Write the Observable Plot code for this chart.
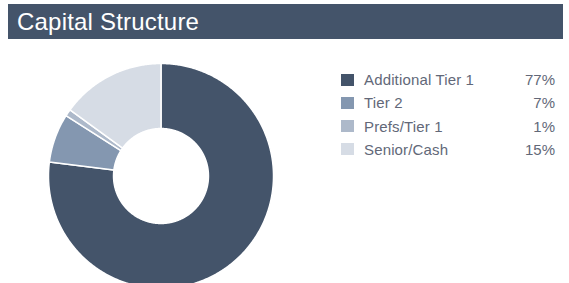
<!DOCTYPE html>
<html>
<head>
<meta charset="utf-8">
<script src="https://cdn.jsdelivr.net/npm/d3@7"></script>
<script src="https://cdn.jsdelivr.net/npm/@observablehq/plot@0.6"></script>
<style>
  html, body { margin: 0; padding: 0; background: #fff; }
  body { width: 569px; height: 283px; position: relative; overflow: hidden; font-family: "Liberation Sans", Arial, sans-serif; }
  #title { position: absolute; left: 8px; top: 4px; width: 555px; height: 35px; background: #44546a; color: #fff; font-size: 24px; line-height: 36px; box-sizing: border-box; padding-left: 9px; letter-spacing: 0.2px; }
  #chart { position: absolute; left: 43.3px; top: 57.7px; }
  #legend { position: absolute; left: 341px; top: 72px; width: 214px; }
  .row { position: relative; height: 23.3px; font-size: 15px; color: #626878; }
  .sw { position: absolute; left: 0; top: 1.5px; width: 13px; height: 12px; }
  .lab { position: absolute; left: 23px; top: 0px; line-height: 16px; letter-spacing: 0.15px; }
  .val { position: absolute; right: 0; top: 0px; line-height: 16px; }
</style>
</head>
<body>
<div id="title">Capital Structure</div>
<div id="chart"></div>
<div id="legend"></div>
<script>
const categories = ["Additional Tier 1", "Tier 2", "Prefs/Tier 1", "Senior/Cash"];
const values = [77, 7, 1, 15];
const colors = ["#44546a", "#8497b0", "#adb9ca", "#d6dce5"];

const innerRatio = 0.422;
const pie = d3.pie().sort(null).value(d => d.value);
const arcs = pie(categories.map((c, i) => ({category: c, value: values[i]})));

// Build slice outlines (angle measured clockwise from 12 o'clock)
const pts = [];
arcs.forEach(a => {
  const n = Math.max(4, Math.ceil((a.endAngle - a.startAngle) / 0.01));
  const ring = [];
  for (let k = 0; k <= n; k++) {
    const t = a.startAngle + (a.endAngle - a.startAngle) * k / n;
    ring.push([Math.sin(t), Math.cos(t)]);
  }
  for (let k = n; k >= 0; k--) {
    const t = a.startAngle + (a.endAngle - a.startAngle) * k / n;
    ring.push([innerRatio * Math.sin(t), innerRatio * Math.cos(t)]);
  }
  ring.push(ring[0]);
  ring.forEach(([x, y]) => pts.push({category: a.data.category, x, y}));
});

const chart = Plot.plot({
  width: 235, height: 235,
  marginLeft: 5, marginRight: 5, marginTop: 5, marginBottom: 5,
  x: {domain: [-1, 1], axis: null},
  y: {domain: [-1, 1], axis: null},
  color: {domain: categories, range: colors},
  marks: [
    Plot.line(pts, {x: "x", y: "y", z: "category", fill: "category", stroke: "white", strokeWidth: 1.5, curve: "linear"})
  ]
});
document.getElementById("chart").appendChild(chart);

const legend = document.getElementById("legend");
categories.forEach((c, i) => {
  const row = document.createElement("div");
  row.className = "row";
  row.innerHTML = `<div class="sw" style="background:${colors[i]}"></div><div class="lab">${c}</div><div class="val">${values[i]}%</div>`;
  legend.appendChild(row);
});
</script>
</body>
</html>
